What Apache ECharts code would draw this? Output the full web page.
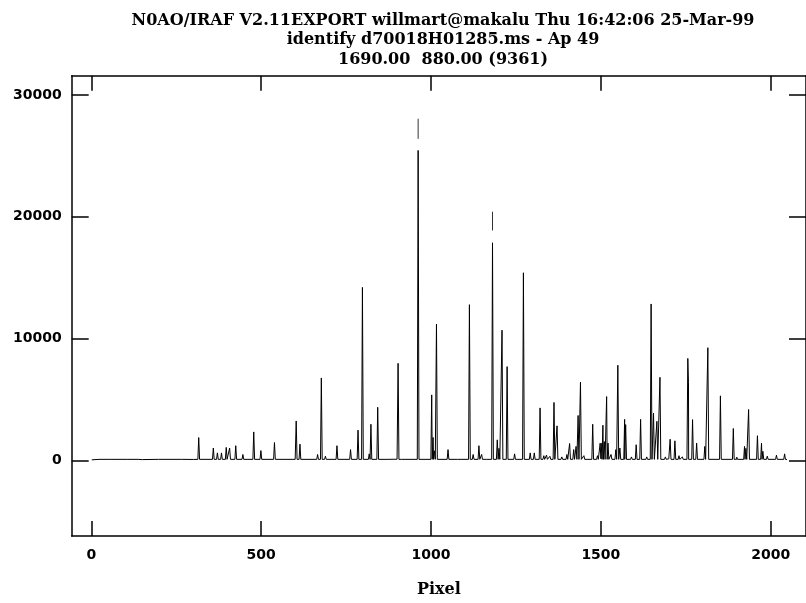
<!DOCTYPE html>
<html>
<head>
<meta charset="utf-8">
<script src="https://cdn.jsdelivr.net/npm/echarts@6/dist/echarts.min.js"></script>
<style>html,body{margin:0;padding:0;background:#fff}#c{width:806px;height:603px}</style>
</head>
<body>
<div id="c"></div>
<script>
// ---- data ----
var titleLines = [
  "N0AO/IRAF V2.11EXPORT willmart@makalu Thu 16:42:06 25-Mar-99",
  "identify d70018H01285.ms - Ap 49",
  "1690.00  880.00 (9361)"
];
var xLabel = "Pixel";
var xTicks = [0, 500, 1000, 1500, 2000];
var yTicks = [0, 10000, 20000, 30000];
var xRange = [-58, 2104];
var yRange = [-6190, 31580];

// baseline samples [pixel, counts]
var baseline = [[1, 60], [150, 80], [300, 90], [600, 100], [900, 110], [1200, 120], [1500, 150], [1700, 140], [1900, 110], [2048, 80]];
// emission line peaks [pixel, counts]
var peaks = [
  [25, 220], [60, 150], [110, 150], [140, 120], [200, 130], [267, 260],
  [316, 1885], [359, 1030], [371, 630], [383, 630], [397, 1080], [407, 1030],
  [425, 1220], [446, 500], [478, 2350], [499, 820], [539, 1480],
  [603, 3250], [614, 1350], [666, 500], [677, 6780], [689, 360], [723, 1220],
  [763, 900], [785, 2500], [798, 14210], [818, 550], [823, 2980], [843, 4370],
  [870, 200], [903, 7980], [915, 250], [962, 25450],
  [1002, 5390], [1006, 1900], [1010, 800], [1016, 11190], [1050, 900], [1080, 200],
  [1113, 12790], [1124, 500], [1141, 1220], [1149, 500], [1165, 250],
  [1181, 17870], [1195, 1700], [1200, 1000], [1209, 10700], [1224, 7710],
  [1246, 550], [1272, 15410], [1292, 630], [1304, 630], [1321, 4320],
  [1332, 400], [1340, 450], [1350, 350], [1362, 4770], [1371, 2850],
  [1385, 300], [1400, 500], [1408, 1400], [1420, 900], [1427, 1160],
  [1433, 3700], [1440, 6430], [1450, 400], [1476, 2980], [1490, 400],
  [1498, 1430], [1503, 1430], [1506, 2900], [1510, 1560], [1517, 5250],
  [1521, 1430], [1530, 500], [1544, 900], [1550, 7820], [1556, 1030],
  [1570, 3380], [1573, 2950], [1590, 300], [1604, 1300], [1617, 3380],
  [1635, 300], [1648, 12850], [1655, 3890], [1665, 3220], [1674, 6830],
  [1690, 300], [1704, 1750], [1718, 1620], [1730, 400], [1740, 300],
  [1756, 8380], [1758, 6380], [1770, 3360], [1782, 1430], [1806, 1160],
  [1815, 9260], [1852, 5310], [1890, 2630], [1900, 280], [1923, 1160],
  [1927, 1000], [1935, 4190], [1961, 2040], [1973, 1430], [1977, 760],
  [1990, 360], [2017, 440], [2041, 550]
];
var peakBase = 100;
var peakHalfWidth = 2.5;
// identified-line marks [pixel, bottom, top]
var marks = [[962, 26400, 28050], [1181, 18880, 20420]];

// ---- build the spectrum polyline ----
var pts = baseline.map(function (p) { return [p[0], p[1]]; });
peaks.forEach(function (p) {
  pts.push([p[0] - peakHalfWidth, peakBase]);
  pts.push([p[0], p[1]]);
  pts.push([p[0] + peakHalfWidth, peakBase]);
});
pts.sort(function (a, b) { return a[0] - b[0]; });

var labelFont = { fontFamily: 'DejaVu Sans', fontWeight: 'bold', fontSize: 14, color: '#000' };
var axisLine = { show: true, onZero: false, lineStyle: { color: '#000', width: 1.5 } };
function plain(v) { return String(v); }

function xAxisDef(pos, showLabels) {
  return {
    type: 'value', position: pos, min: xRange[0], max: xRange[1],
    axisLine: axisLine,
    axisTick: { show: true, inside: true, length: 15, customValues: xTicks, lineStyle: { color: '#000', width: 1.5 } },
    axisLabel: Object.assign({ show: showLabels, margin: 12, customValues: xTicks, formatter: plain }, labelFont),
    splitLine: { show: false },
    name: showLabels ? xLabel : '', nameLocation: 'middle', nameGap: 46,
    nameTextStyle: { fontFamily: 'DejaVu Serif', fontWeight: 'bold', fontSize: 16, color: '#000' }
  };
}
function yAxisDef(pos, showLabels) {
  return {
    type: 'value', position: pos, min: yRange[0], max: yRange[1],
    axisLine: axisLine,
    axisTick: { show: true, inside: true, length: 17, customValues: yTicks, lineStyle: { color: '#000', width: 1.5 } },
    axisLabel: Object.assign({ show: showLabels, margin: 10, customValues: yTicks, formatter: plain }, labelFont),
    splitLine: { show: false }
  };
}

var series = [{
  type: 'line', xAxisIndex: 0, yAxisIndex: 0, data: pts, showSymbol: false,
  lineStyle: { color: '#000', width: 1 }, silent: true
}];
marks.forEach(function (m) {
  series.push({
    type: 'line', xAxisIndex: 0, yAxisIndex: 0, data: [[m[0], m[1]], [m[0], m[2]]], showSymbol: false,
    lineStyle: { color: '#333', width: 1 }, silent: true
  });
});

var chart = echarts.init(document.getElementById('c'), null, { renderer: 'canvas' });
chart.setOption({
  animation: false,
  backgroundColor: '#fff',
  grid: { left: 71.7, top: 75.7, width: 743.3, height: 471, containLabel: false },
  xAxis: [xAxisDef('bottom', true), xAxisDef('top', false)],
  yAxis: [yAxisDef('left', true), yAxisDef('right', false)],
  graphic: titleLines.map(function (t, i) {
    return {
      type: 'text', x: 443, y: 21 + i * 19.3,
      style: { text: t, textAlign: 'center', textVerticalAlign: 'middle',
        font: 'bold 16px "DejaVu Serif"', fill: '#000' }
    };
  }),
  series: series
});
</script>
</body>
</html>
